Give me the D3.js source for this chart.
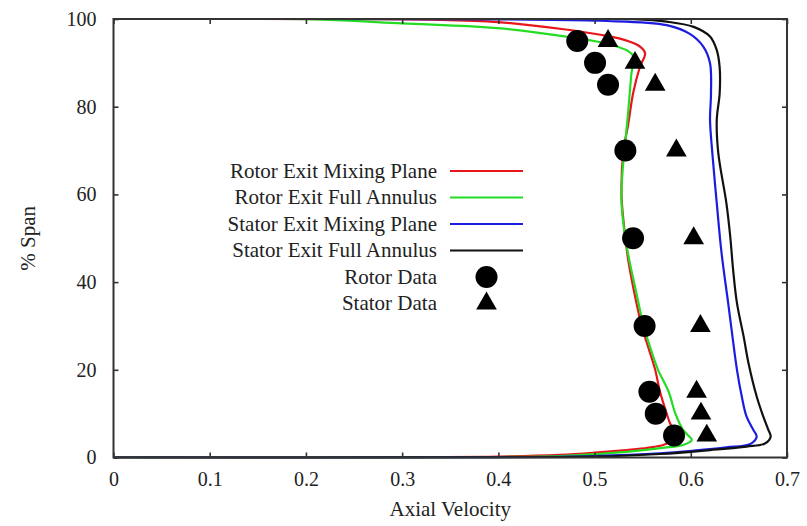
<!DOCTYPE html>
<html>
<head>
<meta charset="utf-8">
<script src="https://cdn.jsdelivr.net/npm/d3@7"></script>
<style>
  body { margin: 0; background: #fff; }
  svg { display: block; }
  text { font-family: "Liberation Serif", "DejaVu Serif", serif; fill: #222; }
</style>
</head>
<body>
<svg id="chart" width="807" height="526"></svg>
<script>
// ---- Data (x = axial velocity, y = % span) ----
const rotorExitMixingPlane = [
  [0,0],[0.30,0.03],[0.40,0.2],[0.464,0.6],[0.50,1.1],[0.533,1.7],[0.555,2.2],[0.572,2.9],
  [0.581,4],[0.582,6],[0.578,8],[0.575,10],[0.568,15],[0.563,20],[0.556,25],[0.549,30],
  [0.540,39],[0.535,45],[0.531,52],[0.528,60],[0.530,70],[0.535,76],[0.540,83],[0.547,89],
  [0.5525,92.2],[0.546,93.9],[0.530,95.3],[0.506,96.4],[0.47,97.6],[0.40,99.3],[0.33,99.85],
  [0.25,99.98],[0,100]
];
const rotorExitFullAnnulus = [
  [0,0],[0.30,0.02],[0.40,0.1],[0.464,0.34],[0.533,1.3],[0.575,2.3],[0.592,2.85],[0.601,4.0],
  [0.596,5.3],[0.592,6.3],[0.584,10],[0.577,15],[0.566,20],[0.558,25],[0.551,30],[0.542,39],
  [0.537,44],[0.532,50],[0.528,58],[0.529,65],[0.532,72],[0.535,79],[0.538,87],[0.540,91.6],
  [0.534,92.8],[0.506,94.7],[0.47,96],[0.40,97.9],[0.30,99.0],[0.21,99.9],[0,100]
];
const statorExitMixingPlane = [
  [0,0],[0.40,0.05],[0.499,0.34],[0.568,0.95],[0.603,1.55],[0.637,2.3],[0.662,3.1],[0.6685,4.75],
  [0.665,6.3],[0.658,9.3],[0.653,13.9],[0.648,20],[0.6425,29],[0.639,35],[0.632,46.6],
  [0.627,58],[0.6224,69.4],[0.620,77],[0.621,83],[0.620,89.9],[0.613,93.7],[0.599,96.6],
  [0.575,98.6],[0.506,99.6],[0.40,99.9],[0,100]
];
const statorExitFullAnnulus = [
  [0,0],[0.40,0.03],[0.498,0.2],[0.568,0.8],[0.62,1.7],[0.658,2.5],[0.677,3.2],[0.683,4.75],
  [0.6806,6.3],[0.6754,9.3],[0.6685,13.9],[0.660,21.5],[0.655,27.5],[0.648,35.2],[0.644,42.8],
  [0.641,50.4],[0.637,58],[0.6286,69.4],[0.627,77],[0.630,83],[0.630,89],[0.627,92.9],
  [0.620,96.0],[0.603,98.2],[0.575,99.4],[0.540,99.95],[0,100]
];
const rotorData = [
  [0.482,95],[0.5005,90],[0.514,85],[0.532,70],[0.540,50],[0.552,30],[0.557,15],[0.5636,10],[0.5826,5]
];
const statorData = [
  [0.514,95],[0.542,90],[0.563,85],[0.585,70],[0.603,50],[0.610,30],[0.606,15],[0.6106,10],[0.6166,5]
];
const seriesNames = ["Rotor Exit Mixing Plane","Rotor Exit Full Annulus","Stator Exit Mixing Plane","Stator Exit Full Annulus"];
const seriesColors = ["#e8161b","#25dc25","#1c1ce0","#111111"];
const markerNames = ["Rotor Data","Stator Data"];
const xTicks = [0,0.1,0.2,0.3,0.4,0.5,0.6,0.7];
const yTicks = [0,20,40,60,80,100];

// ---- Layout ----
const svg = d3.select("#chart");
const L = 113.5, R = 787, T = 19, B = 457.5;
const x = d3.scaleLinear().domain([0,0.7]).range([L,R]);
const y = d3.scaleLinear().domain([0,100]).range([B,T]);
const axisColor = "#333";

// curves
const line = d3.line().x(d => x(d[0])).y(d => y(d[1])).curve(d3.curveCatmullRom.alpha(0.5));
const curves = [rotorExitMixingPlane, rotorExitFullAnnulus, statorExitMixingPlane, statorExitFullAnnulus];
svg.append("defs").append("clipPath").attr("id","clip")
  .append("rect").attr("x",L).attr("y",T-1).attr("width",R-L).attr("height",B-T+2);
const g = svg.append("g").attr("clip-path","url(#clip)");
curves.forEach((c,i) => {
  g.append("path").datum(c).attr("d",line)
    .attr("fill","none").attr("stroke",seriesColors[i]).attr("stroke-width",2.2)
    .attr("stroke-linejoin","round");
});

// axes (ticks inward, mirrored)
const tl = 5;
const axB = d3.axisBottom(x).tickValues(xTicks).tickSize(-tl).tickFormat(d3.format("")).tickPadding(14);
const axT = d3.axisTop(x).tickValues(xTicks).tickSize(-tl).tickFormat("");
const axL = d3.axisLeft(y).tickValues(yTicks).tickSize(-tl).tickPadding(17);
const axR = d3.axisRight(y).tickValues(yTicks).tickSize(-tl).tickFormat("");
function style(sel){
  sel.select(".domain").remove();
  sel.selectAll(".tick line").attr("stroke",axisColor).attr("stroke-width",1.6);
  sel.selectAll(".tick text").attr("fill","#222").style("font-size","20px")
    .style("font-family","'Liberation Serif', serif");
}
svg.append("g").attr("transform",`translate(0,${B})`).call(axB).call(style)
  .selectAll(".tick text").attr("dy","0.71em");
svg.append("g").attr("transform",`translate(0,${T})`).call(axT).call(style);
svg.append("g").attr("transform",`translate(${L},0)`).call(axL).call(style);
svg.append("g").attr("transform",`translate(${R},0)`).call(axR).call(style);
svg.append("rect").attr("x",L).attr("y",T).attr("width",R-L).attr("height",B-T)
  .attr("fill","none").attr("stroke",axisColor).attr("stroke-width",2);

// markers
svg.append("g").selectAll("circle").data(rotorData).join("circle")
  .attr("cx",d=>x(d[0])).attr("cy",d=>y(d[1])).attr("r",11).attr("fill","#000");
const tri = d3.symbol().type(d3.symbolTriangle).size(185);
svg.append("g").selectAll("path").data(statorData).join("path")
  .attr("transform",d=>`translate(${x(d[0])},${y(d[1])})`).attr("d",tri).attr("fill","#000");

// axis titles
svg.append("text").attr("x",(L+R)/2).attr("y",516).attr("text-anchor","middle")
  .style("font-size","21px").text("Axial Velocity");
svg.append("text").attr("transform",`translate(35,${(T+B)/2}) rotate(-90)`)
  .attr("text-anchor","middle").style("font-size","21px").text("% Span");

// legend
const legX = 437, lx0 = 450, lx1 = 523, ly0 = 171, dyL = 26.5;
const leg = svg.append("g");
seriesNames.forEach((n,i) => {
  const yy = ly0 + i*dyL;
  leg.append("text").attr("x",legX).attr("y",yy).attr("dy","0.33em").attr("text-anchor","end")
    .style("font-size","21px").text(n);
  leg.append("line").attr("x1",lx0).attr("x2",lx1).attr("y1",yy).attr("y2",yy)
    .attr("stroke",seriesColors[i]).attr("stroke-width",2.2);
});
markerNames.forEach((n,i) => {
  const yy = ly0 + (i+4)*dyL;
  leg.append("text").attr("x",legX).attr("y",yy).attr("dy","0.33em").attr("text-anchor","end")
    .style("font-size","21px").text(n);
  if (i === 0) leg.append("circle").attr("cx",(lx0+lx1)/2).attr("cy",yy).attr("r",11).attr("fill","#000");
  else leg.append("path").attr("transform",`translate(${(lx0+lx1)/2},${yy})`).attr("d",tri).attr("fill","#000");
});
</script>
</body>
</html>
